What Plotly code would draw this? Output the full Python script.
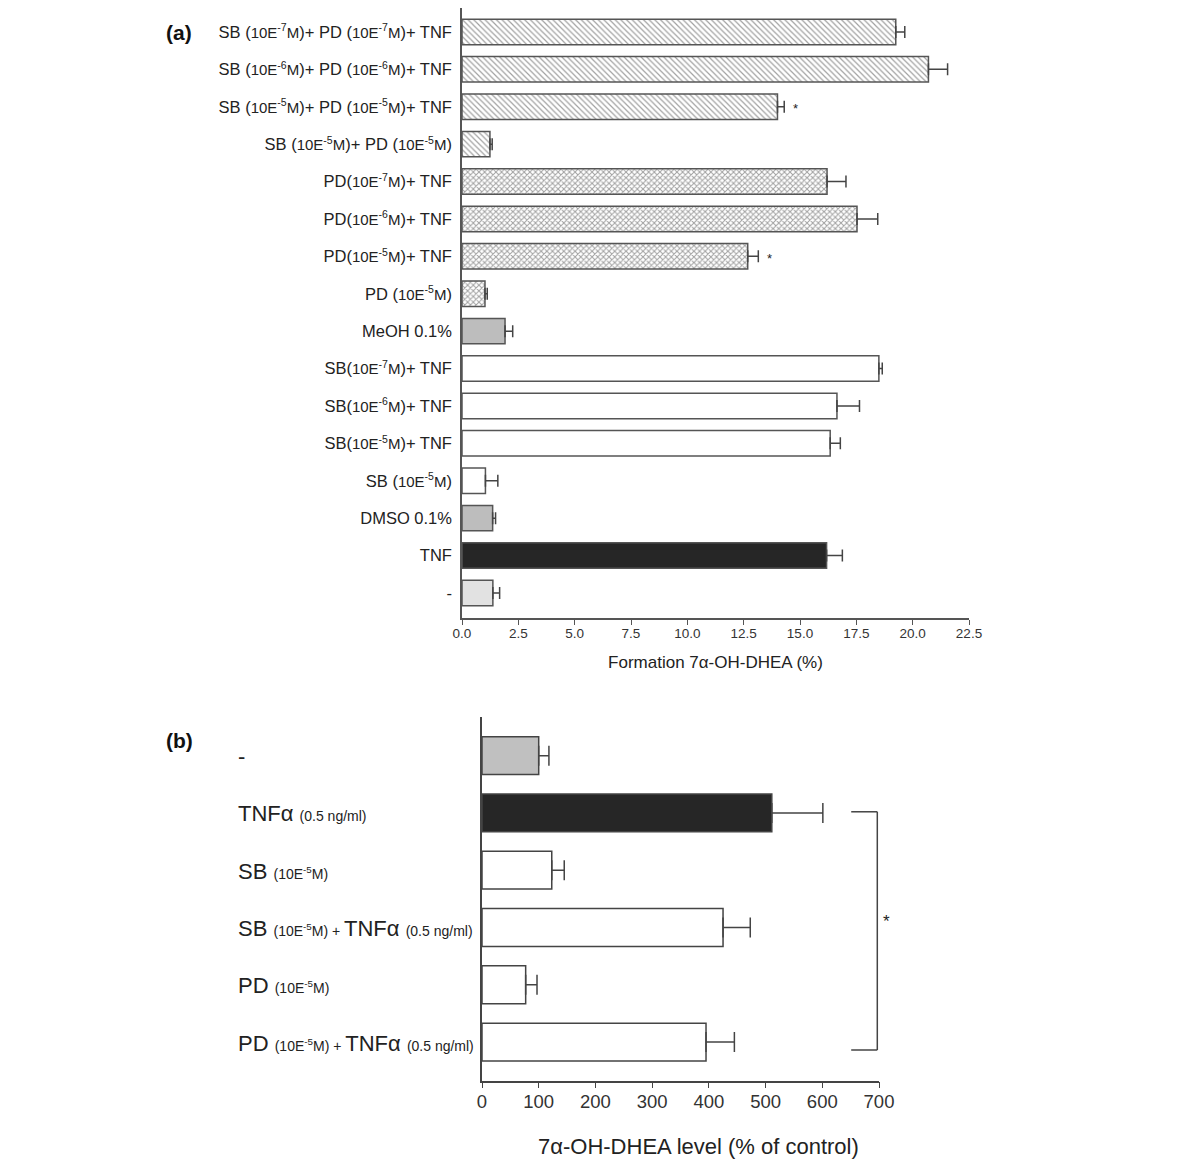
import plotly.graph_objects as go

W, H = 1200, 1168

def sm(t, size=15):
    return f"<span style='font-size:{size}px'>{t}</span>"

def conc(e, size=15):
    return sm(f"10E<sup>{e}</sup>M", size)

# ---------------- Panel (a) data ----------------
labels_a = [
    "SB (" + conc("-7") + ")+ PD (" + conc("-7") + ")+ TNF",
    "SB (" + conc("-6") + ")+ PD (" + conc("-6") + ")+ TNF",
    "SB (" + conc("-5") + ")+ PD (" + conc("-5") + ")+ TNF",
    "SB (" + conc("-5") + ")+ PD (" + conc("-5") + ")",
    "PD(" + conc("-7") + ")+ TNF",
    "PD(" + conc("-6") + ")+ TNF",
    "PD(" + conc("-5") + ")+ TNF",
    "PD (" + conc("-5") + ")",
    "MeOH 0.1%",
    "SB(" + conc("-7") + ")+ TNF",
    "SB(" + conc("-6") + ")+ TNF",
    "SB(" + conc("-5") + ")+ TNF",
    "SB (" + conc("-5") + ")",
    "DMSO 0.1%",
    "TNF",
    "-",
]
values_a = [19.25, 20.7, 14.0, 1.24, 16.2, 17.53, 12.68, 1.02, 1.91, 18.5, 16.64, 16.34, 1.04, 1.36, 16.18, 1.37]
errors_a = [0.4, 0.85, 0.3, 0.1, 0.84, 0.92, 0.47, 0.1, 0.34, 0.15, 1.0, 0.45, 0.55, 0.13, 0.7, 0.3]
fills_a = ["white"] * 8 + ["#bdbdbd", "white", "white", "white", "white", "#bdbdbd", "#262626", "#e2e2e2"]
patterns_a = ["\\"] * 4 + ["x"] * 4 + [""] * 8
solidity_a = [0.3] * 4 + [0.45] * 4 + [0.3] * 8
stars_a = [2, 6]
xticks_a = [0.0, 2.5, 5.0, 7.5, 10.0, 12.5, 15.0, 17.5, 20.0, 22.5]

# ---------------- Panel (b) data ----------------
def smb(t):
    return f"<span style='font-size:14px'>{t}</span>"

labels_b = [
    "-",
    "TNFα " + smb("(0.5 ng/ml)"),
    "SB " + smb("(10E<sup>-5</sup>M)"),
    "SB " + smb("(10E<sup>-5</sup>M) + ") + "TNFα " + smb("(0.5 ng/ml)"),
    "PD " + smb("(10E<sup>-5</sup>M)"),
    "PD " + smb("(10E<sup>-5</sup>M) + ") + "TNFα " + smb("(0.5 ng/ml)"),
]
values_b = [100, 511, 123, 425, 77, 395]
errors_b = [18, 90, 22, 48, 20, 50]
fills_b = ["#c0c0c0", "#262626", "white", "white", "white", "white"]
xticks_b = [0, 100, 200, 300, 400, 500, 600, 700]
bracket_rows = [1, 5]
bracket_x = [651, 697]

line_col = "#555555"
txt_col = "#222222"
font_fam = "Liberation Sans, Arial, sans-serif"

fig = go.Figure()

ya_pos = list(range(len(labels_a)))
fig.add_trace(go.Bar(
    x=values_a, y=ya_pos, orientation="h", width=0.68,
    marker=dict(color=fills_a, line=dict(color=line_col, width=1.5),
                pattern=dict(shape=patterns_a, fgcolor="#4a4a4a", bgcolor="white",
                             size=4, solidity=solidity_a, fillmode="overlay")),
    error_x=dict(type="data", symmetric=False, array=errors_a, arrayminus=[0] * len(errors_a),
                 color="#444444", thickness=1.5, width=6),
    xaxis="x", yaxis="y", showlegend=False, hoverinfo="skip",
))

yb_pos = list(range(len(labels_b)))
fig.add_trace(go.Bar(
    x=values_b, y=yb_pos, orientation="h", width=0.66,
    marker=dict(color=fills_b, line=dict(color="#444444", width=1.5)),
    error_x=dict(type="data", symmetric=False, array=errors_b, arrayminus=[0] * len(errors_b),
                 color="#444444", thickness=1.5, width=10),
    xaxis="x2", yaxis="y2", showlegend=False, hoverinfo="skip",
))

annotations = []
for i in stars_a:
    annotations.append(dict(x=values_a[i] + errors_a[i], y=i, xref="x", yref="y", text="*",
                            showarrow=False, xanchor="left", xshift=7, yshift=-2,
                            font=dict(size=13, color=txt_col, family=font_fam)))

# panel b labels (left aligned)
for i, lab in enumerate(labels_b):
    annotations.append(dict(x=236 / W, xref="paper", y=i, yref="y2", text=lab,
                            showarrow=False, xanchor="left", yanchor="middle", yshift=-1,
                            font=dict(size=22, color=txt_col, family=font_fam)))

# panel b x-axis title (offset right of axis centre as in the original)
annotations.append(dict(x=698 / W, y=1 - 1146 / H, xref="paper", yref="paper",
                        text="7α-OH-DHEA level (% of control)", showarrow=False,
                        xanchor="center", yanchor="middle",
                        font=dict(size=22, color="#222", family=font_fam)))

# panel titles
annotations.append(dict(x=164 / W, y=1 - 33 / H, xref="paper", yref="paper", text="<b>(a)</b>",
                        showarrow=False, xanchor="left", yanchor="middle",
                        font=dict(size=21, color="#111", family=font_fam)))
annotations.append(dict(x=164 / W, y=1 - 740 / H, xref="paper", yref="paper", text="<b>(b)</b>",
                        showarrow=False, xanchor="left", yanchor="middle",
                        font=dict(size=21, color="#111", family=font_fam)))

# bracket in panel b
r0, r1 = bracket_rows
shapes = [
    dict(type="line", xref="x2", yref="y2", x0=bracket_x[0], x1=bracket_x[1], y0=r0 - 0.02, y1=r0 - 0.02,
         line=dict(color="#444444", width=1.5)),
    dict(type="line", xref="x2", yref="y2", x0=bracket_x[1], x1=bracket_x[1], y0=r0 - 0.02, y1=r1 + 0.14,
         line=dict(color="#444444", width=1.5)),
    dict(type="line", xref="x2", yref="y2", x0=bracket_x[0], x1=bracket_x[1], y0=r1 + 0.14, y1=r1 + 0.14,
         line=dict(color="#444444", width=1.5)),
]
annotations.append(dict(x=bracket_x[1], y=(r0 + r1) / 2 - 0.1, xref="x2", yref="y2", text="*", showarrow=False,
                        xanchor="left", xshift=4, font=dict(size=17, color=txt_col, family=font_fam)))

fig.update_layout(
    width=W, height=H,
    margin=dict(l=0, r=0, t=0, b=0, autoexpand=False),
    paper_bgcolor="white", plot_bgcolor="white",
    font=dict(family=font_fam, color=txt_col),
    bargap=0.3,
    xaxis=dict(domain=[462 / W, 969 / W], range=[0, 22.5], anchor="y", automargin=False,
               tickvals=xticks_a, ticktext=[f"{v:.1f}" for v in xticks_a],
               ticks="outside", ticklen=5, tickwidth=1.2, tickcolor=line_col, ticklabelstandoff=-3,
               showline=True, linecolor=line_col, linewidth=1.5, showgrid=False, zeroline=False,
               tickfont=dict(size=13.5, color="#333"),
               title=dict(text="Formation 7α-OH-DHEA (%)", font=dict(size=17, color="#222"), standoff=16)),
    yaxis=dict(domain=[1 - 618 / H, 1 - 8 / H], range=[15.67, -0.64], anchor="x", automargin=False,
               tickvals=ya_pos, ticktext=labels_a, ticks="", ticklabelstandoff=5,
               showline=True, linecolor=line_col, linewidth=1.5, showgrid=False, zeroline=False,
               tickfont=dict(size=16.5, color=txt_col)),
    xaxis2=dict(domain=[482 / W, 879 / W], range=[0, 700], anchor="y2", automargin=False,
                tickvals=xticks_b, ticks="outside", ticklen=6, tickwidth=1.2, tickcolor="#444",
                ticklabelstandoff=-3,
                showline=True, linecolor="#444", linewidth=1.5, showgrid=False, zeroline=False,
                tickfont=dict(size=18.5, color="#333")),
    yaxis2=dict(domain=[1 - 1080.7 / H, 1 - 716.7 / H], range=[5.675, -0.68], anchor="x2", automargin=False,
                showticklabels=False, ticks="",
                showline=True, linecolor="#444", linewidth=1.5, showgrid=False, zeroline=False),
    annotations=annotations,
    shapes=shapes,
)

fig.write_html("out.html", config={"displayModeBar": False},
               post_script="document.body.style.margin='0px';document.body.style.overflow='hidden';")
